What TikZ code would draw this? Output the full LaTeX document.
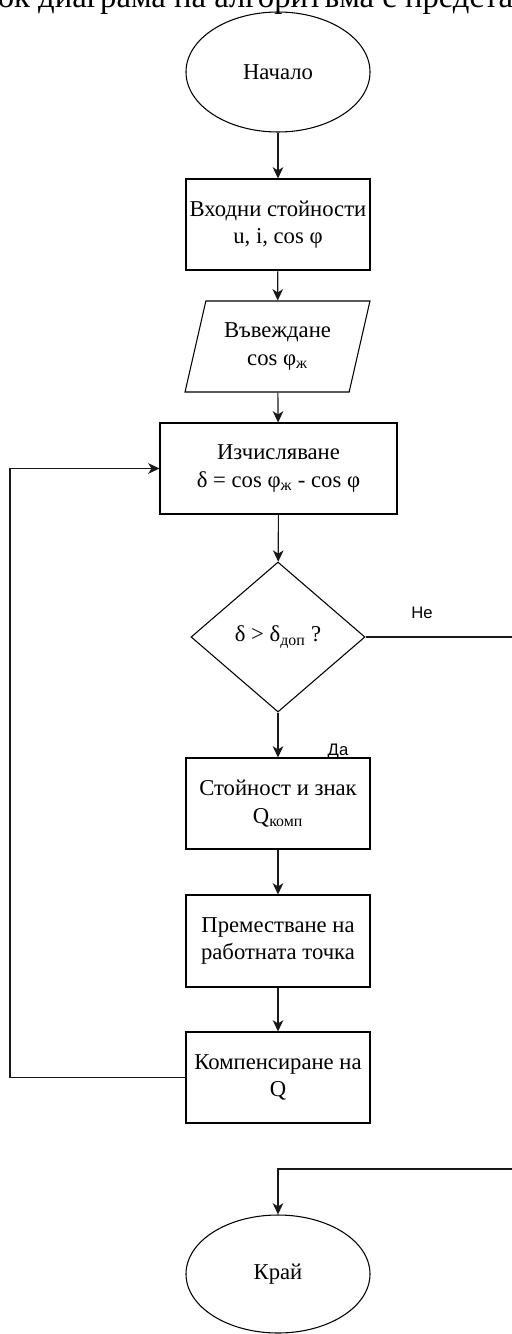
\documentclass[tikz,border=0pt]{standalone}
\usepackage{fontspec}
\setmainfont{Liberation Serif}
\newfontfamily\fclabelfont{Liberation Sans}
\usetikzlibrary{shapes.geometric,arrows.meta}
\newcommand{\fctextsize}{\fontsize{17}{20.5}\selectfont}
\tikzset{
  fcline/.style={line width=0.85pt, draw=black!90},
  fcarrow/.style={fcline, -{Stealth[length=8.5pt,width=8pt,inset=2.5pt]}},
  fcterm/.style={ellipse, draw, line width=0.8pt, minimum width=138pt, minimum height=90pt, inner sep=0pt, font=\fctextsize},
  fcbox/.style={rectangle, draw, line width=0.8pt, minimum width=138pt, minimum height=68.25pt, inner sep=0pt, align=center, font=\fctextsize},
  fcio/.style={trapezium, trapezium left angle=71.7, trapezium right angle=108.3, trapezium stretches=true, draw, line width=0.8pt, minimum width=138.75pt, minimum height=68.25pt, inner sep=0pt, align=center, font=\fctextsize},
  fcdec/.style={diamond, draw, line width=0.8pt, minimum width=130.5pt, minimum height=112.5pt, inner sep=0pt, font=\fctextsize},
  fclabel/.style={font=\fclabelfont\fontsize{12.5}{15}\selectfont, inner sep=0pt},
}

\begin{document}
\begin{tikzpicture}[x=0.75pt, y=-0.75pt]
\useasboundingbox (0,0) rectangle (511,1334);
\node[font=\fontsize{24.5}{28}\selectfont, anchor=base, inner sep=0pt] (capt) at (255.5,8) {ок диаграма на алгоритъма с предста};
\node[fcterm] (start) at (278,72) {Начало};
\node[fcbox] (inval) at (278,224.5) {Входни стойности\\u, i, cos φ};
\node[fcio] (input) at (277.5,346.5) {Въвеждане\\cos φ\textsubscript{ж}};
\node[fcbox, minimum width=177.75pt] (calc) at (278.5,468.5) {Изчисляване\\δ = cos φ\textsubscript{ж} - cos φ};
\node[fcdec] (dec) at (278,637) {δ > δ\textsubscript{доп} ?};
\node[fcbox] (qval) at (278,803.5) {Стойност и знак\\Q\textsubscript{комп}};
\node[fcbox, minimum height=69pt] (move) at (278,941) {Преместване на\\работната точка};
\node[fcbox] (comp) at (278,1077.5) {Компенсиране на\\Q};
\node[fcterm, minimum height=88.5pt] (stop) at (278,1274) {Край};
\coordinate (nobend) at (525,1169);
\coordinate (loopbend) at (10,1077.5);
\draw[fcarrow] (start) -- (inval);
\draw[fcarrow] (inval) -- (input);
\draw[fcarrow] (input) -- (calc);
\draw[fcarrow] (calc) -- (dec);
\draw[fcarrow] (dec) -- (qval);
\draw[fcarrow] (qval) -- (move);
\draw[fcarrow] (move) -- (comp);
\draw[fcarrow] (comp.west) -- (loopbend) |- (calc.west);
\draw[fcarrow] (dec.east) -| (nobend) -| (stop.north);
\node[fclabel] (nolbl) at (422,613) {Не};
\node[fclabel] (yeslbl) at (338,751) {Да};
\end{tikzpicture}
\end{document}
